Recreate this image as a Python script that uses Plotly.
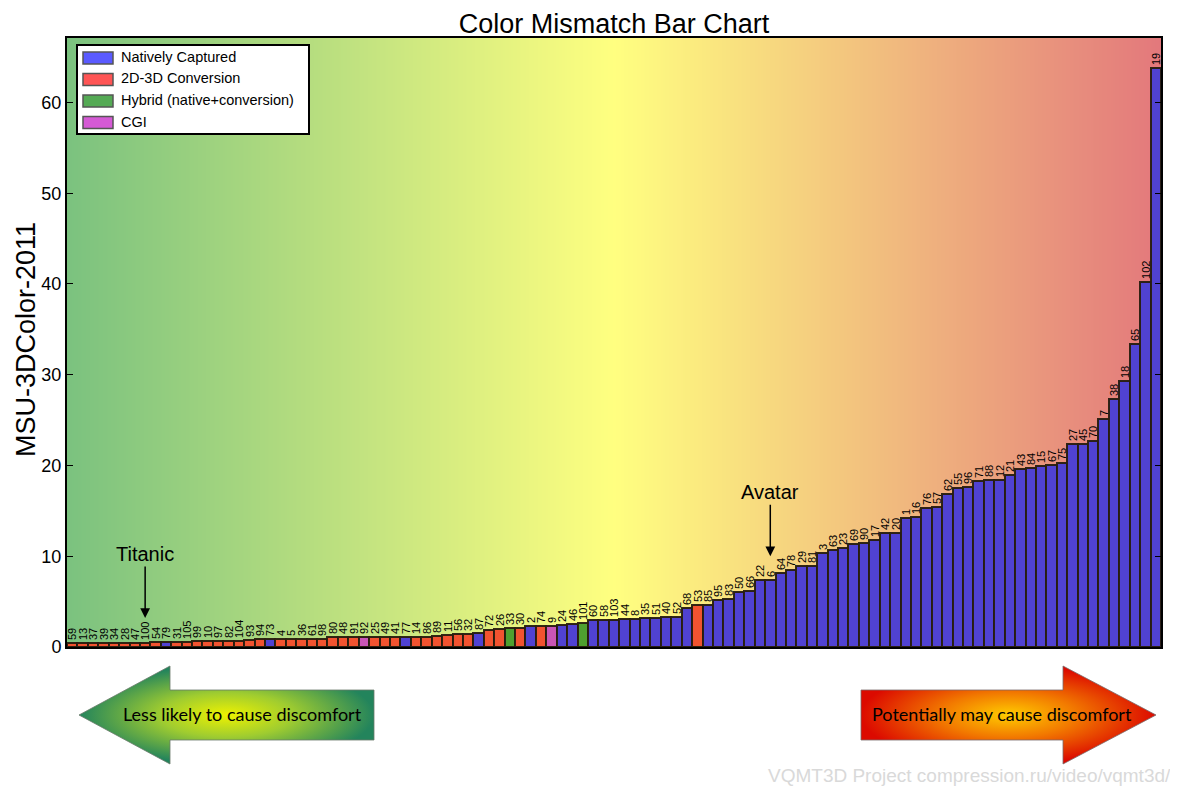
import numpy as np
import plotly.graph_objects as go

# ---------------- data ----------------
movie_ids = [59, 13, 37, 39, 34, 28, 47, 100, 54, 79, 31, 105, 99, 10, 97, 82, 104, 93, 94, 73,
             4, 5, 36, 61, 98, 80, 48, 91, 92, 25, 49, 41, 77, 14, 86, 89, 11, 56, 32, 87,
             72, 26, 33, 30, 2, 74, 9, 24, 46, 101, 60, 58, 103, 44, 8, 35, 51, 40, 52, 68,
             53, 85, 95, 83, 50, 66, 22, 6, 64, 78, 29, 81, 3, 63, 23, 69, 90, 17, 42, 20,
             1, 16, 76, 57, 62, 55, 96, 71, 88, 12, 21, 43, 84, 15, 67, 75, 27, 45, 70, 7,
             38, 18, 65, 102, 19]

scores = [0.45, 0.45, 0.45, 0.45, 0.45, 0.45, 0.45, 0.45, 0.55, 0.55, 0.55, 0.55, 0.68, 0.68, 0.68, 0.68, 0.68, 0.78, 0.88, 0.92,
          0.92, 0.92, 0.92, 0.92, 0.92, 1.05, 1.05, 1.05, 1.05, 1.13, 1.13, 1.13, 1.13, 1.13, 1.13, 1.22, 1.33, 1.38, 1.40, 1.58,
          1.83, 2.02, 2.05, 2.07, 2.27, 2.28, 2.35, 2.40, 2.53, 2.68, 2.95, 2.97, 3.03, 3.05, 3.08, 3.15, 3.25, 3.27, 3.28, 4.25,
          4.65, 4.67, 5.14, 5.32, 6.05, 6.17, 7.40, 7.42, 8.20, 8.48, 8.90, 8.92, 10.40, 10.65, 10.90, 11.40, 11.50, 11.75, 12.55, 12.57,
          14.25, 14.35, 15.30, 15.45, 16.90, 17.50, 17.65, 18.28, 18.40, 18.42, 19.00, 19.60, 19.75, 19.90, 20.10, 20.30, 22.40, 22.42, 22.70, 25.10,
          27.30, 29.30, 33.40, 40.20, 63.80]

# C = 2D-3D conversion, N = natively captured, H = hybrid, G = CGI
capture_type = ["C", "C", "C", "C", "C", "C", "C", "C", "C", "N", "C", "C", "C", "C", "C", "C", "C", "C", "C", "N",
                "C", "C", "C", "C", "C", "C", "C", "C", "G", "C", "C", "C", "N", "C", "C", "C", "C", "C", "C", "N",
                "C", "C", "H", "C", "N", "C", "G", "N", "N", "H", "N", "N", "N", "N", "N", "N", "N", "N", "N", "N",
                "C", "N", "N", "N", "N", "N", "N", "N", "N", "N", "N", "N", "N", "N", "N", "N", "N", "N", "N", "N",
                "N", "N", "N", "N", "N", "N", "N", "N", "N", "N", "N", "N", "N", "N", "N", "N", "N", "N", "N", "N",
                "N", "N", "N", "N", "N"]

legend_names = ["Natively Captured", "2D-3D Conversion", "Hybrid (native+conversion)", "CGI"]
legend_codes = ["N", "C", "H", "G"]
y_ticks = [0, 10, 20, 30, 40, 50, 60]

bar_colors = {"N": "#5042d2", "C": "#f25330", "H": "#4fa02f", "G": "#c955b6"}
legend_colors = {"N": "#5a5aff", "C": "#ff5555", "H": "#55aa55", "G": "#d55ad5"}

# page offset of the plot div (default body margin) and figure size
OX, OY = 8, 8
W, H = 1170, 780
PL, PR, PT, PB = 67, 1161, 38, 647   # plot area in window pixels
FONT = "Liberation Sans, Arial, sans-serif"


def px(x):
    return (x - OX) / W


def py(y):
    return 1 - (y - OY) / H


n = len(scores)
xs = list(range(n))

fig = go.Figure()

# background gradient
bg_x = np.linspace(-0.5, n - 0.5, 240)
bg_z = (bg_x - bg_x.min()) / (bg_x.max() - bg_x.min())
fig.add_trace(go.Heatmap(
    x=bg_x, y=[0, 70], z=[bg_z, bg_z], zsmooth="best", showscale=False,
    colorscale=[[0, "#7bc27f"], [0.5, "#ffff80"], [1, "#e3787c"]],
    zmin=0, zmax=1, hoverinfo="skip"))

# bars
fig.add_trace(go.Bar(
    x=xs, y=scores,
    marker=dict(color=[bar_colors[t] for t in capture_type],
                line=dict(color="rgba(40,30,15,0.95)", width=2)),
    text=[str(m) for m in movie_ids], textposition="outside", textangle=-90,
    textfont=dict(size=11, color="black", family=FONT),
    cliponaxis=False, constraintext="none", showlegend=False))

# legend entries (text from the legend, swatches drawn as wide rectangles below)
for name in legend_names:
    fig.add_trace(go.Bar(x=[None], y=[None], name=name,
                         marker=dict(color="rgba(0,0,0,0)", line=dict(width=0))))

# bottom arrows (window pixel coordinates on overlay axes)
left_arrow_x = [79, 170, 170, 374, 374, 170, 170, 79]
left_arrow_y = [715, 666, 690, 690, 740, 740, 764, 715]
right_arrow_x = [861, 1063, 1063, 1156, 1063, 1063, 861, 861]
right_arrow_y = [690, 690, 666, 715, 764, 740, 740, 690]
fig.add_trace(go.Scatter(
    x=left_arrow_x, y=left_arrow_y, xaxis="x2", yaxis="y2", mode="lines", fill="toself",
    line=dict(color="#6a7a6a", width=0.8),
    fillgradient=dict(type="radial", colorscale=[[0, "#eef200"], [0.45, "#9fcc30"], [1, "#23845c"]]),
    showlegend=False, hoverinfo="skip"))
fig.add_trace(go.Scatter(
    x=right_arrow_x, y=right_arrow_y, xaxis="x2", yaxis="y2", mode="lines", fill="toself",
    line=dict(color="#7a6a6a", width=0.8),
    fillgradient=dict(type="radial", colorscale=[[0, "#ffcc00"], [0.45, "#f27a00"], [1, "#dc0a00"]]),
    showlegend=False, hoverinfo="skip"))

# legend frame and swatches
legend_row_y = [58, 79.5, 101, 122.5]
shapes = [dict(type="rect", xref="paper", yref="paper", x0=px(77), x1=px(309), y0=py(134), y1=py(45),
               fillcolor="white", line=dict(color="black", width=2), layer="above")]
for code, ry in zip(legend_codes, legend_row_y):
    shapes.append(dict(type="rect", xref="paper", yref="paper", x0=px(83), x1=px(113),
                       y0=py(ry + 6), y1=py(ry - 6), fillcolor=legend_colors[code],
                       line=dict(color="#555555", width=1.5), layer="above"))

annotations = [
    dict(text="MSU-3DColor-2011", x=px(26), y=py(340), xref="paper", yref="paper",
         xanchor="center", yanchor="middle",
         textangle=-90, showarrow=False, font=dict(size=27, color="black", family=FONT)),
    dict(text="Titanic", x=movie_ids.index(100), y=3.2, xref="x", yref="y", ax=0, ay=-64,
         showarrow=True, arrowhead=2, arrowsize=1.3, arrowwidth=1.5, arrowcolor="black",
         font=dict(size=20, color="black", family=FONT)),
    dict(text="Avatar", x=movie_ids.index(6), y=10.0, xref="x", yref="y", ax=0, ay=-64,
         showarrow=True, arrowhead=2, arrowsize=1.3, arrowwidth=1.5, arrowcolor="black",
         font=dict(size=20, color="black", family=FONT)),
    dict(text="Less likely to cause discomfort", x=px(242), y=py(714), xref="paper", yref="paper",
         xanchor="center", yanchor="middle",
         showarrow=False, font=dict(size=18, color="black", family="Lato, Open Sans, sans-serif")),
    dict(text="Potentially may cause discomfort", x=px(1002), y=py(714), xref="paper", yref="paper",
         xanchor="center", yanchor="middle",
         showarrow=False, font=dict(size=18, color="black", family="Lato, Open Sans, sans-serif")),
    dict(text="VQMT3D Project compression.ru/video/vqmt3d/", x=px(1173), y=py(775),
         xref="paper", yref="paper", xanchor="right", yanchor="middle", showarrow=False,
         font=dict(size=19, color="#d9d9d9", family=FONT)),
]

fig.update_layout(
    width=W, height=H, margin=dict(l=0, r=0, t=0, b=0, pad=0, autoexpand=False),
    paper_bgcolor="white", plot_bgcolor="rgba(0,0,0,0)",
    barmode="overlay", bargap=0,
    title=dict(text="Color Mismatch Bar Chart", x=px((PL + PR) / 2), xanchor="center",
               y=py(24), yanchor="middle", yref="container",
               font=dict(size=27, color="black", family=FONT)),
    xaxis=dict(domain=[px(PL), px(PR)], range=[-0.5, n - 0.5], showticklabels=False, ticks="",
               showgrid=False, zeroline=False, showline=True, linecolor="black", linewidth=2, mirror=True,
               automargin=False),
    yaxis=dict(domain=[py(PB), py(PT)], range=[0, 67.1], tickvals=y_ticks,
               ticks="inside", ticklen=6, tickwidth=1.3, tickcolor="black",
               showgrid=False, zeroline=False, showline=True, linecolor="black", linewidth=2, mirror="ticks",
               tickfont=dict(size=18, color="black", family=FONT), automargin=False),
    xaxis2=dict(domain=[0, 1], range=[OX, OX + W], visible=False, anchor="y2", fixedrange=True),
    yaxis2=dict(domain=[0, 1], range=[OY + H, OY], visible=False, anchor="x2", fixedrange=True),
    legend=dict(x=px(77), y=py(40), xanchor="left", yanchor="top", bgcolor="rgba(0,0,0,0)",
                borderwidth=0, font=dict(size=14.5, color="black", family=FONT),
                tracegroupgap=0, itemwidth=34),
    shapes=shapes,
    annotations=annotations,
    showlegend=True,
)

fig.write_html("out.html")
